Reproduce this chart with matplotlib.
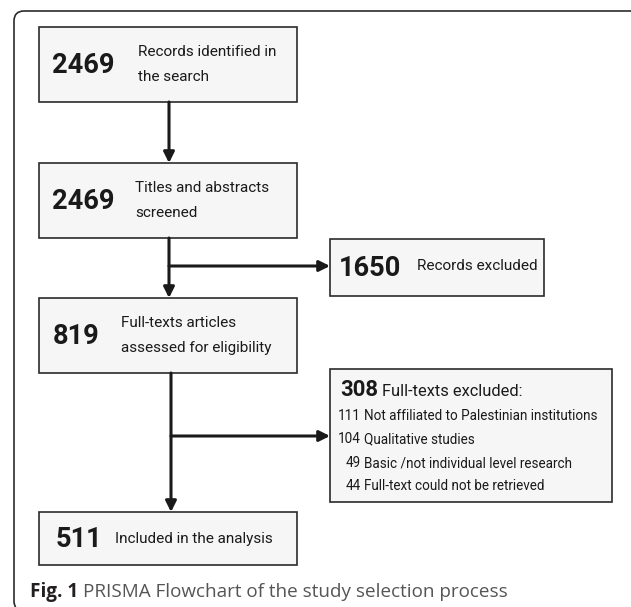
import matplotlib
matplotlib.use('Agg')
import matplotlib.pyplot as plt
from matplotlib.patches import Rectangle, FancyBboxPatch

# flow counts and labels (top to bottom)
main_counts = ['2469', '2469', '819', '511']
main_labels = ['Records identified in\nthe search',
               'Titles and abstracts\nscreened',
               'Full-texts articles\nassessed for eligibility',
               'Included in the analysis']

excluded_count = '1650'
excluded_label = 'Records excluded'

fulltext_excl_count = '308'
fulltext_excl_label = 'Full-texts excluded:'
reason_counts = ['111', '104', '49', '44']
reason_labels = ['Not affiliated to Palestinian institutions',
                 'Qualitative studies',
                 'Basic /not individual level research',
                 'Full-text could not be retrieved']

caption_bold = 'Fig. 1'
caption_text = 'PRISMA Flowchart of the study selection process'

W, H = 631, 607
FONT = 'Roboto'
EDGE = '#2b2b2b'
FILL = '#f6f6f6'
INK = '#1a1a1a'

fig = plt.figure(figsize=(W / 100, H / 100), dpi=100)
ax = fig.add_axes([0, 0, 1, 1])
ax.set_xlim(0, W)
ax.set_ylim(H, 0)
ax.axis('off')
renderer = fig.canvas.get_renderer()


def fit(texts, widths):
    # shrink a group of texts to one size so none is wider than allowed
    scale = min(w / t.get_window_extent(renderer).width for t, w in zip(texts, widths))
    for t in texts:
        t.set_fontsize(t.get_fontsize() * scale)


def label_lines(x, yc, label, width, out, widths):
    lines = label.split('\n')
    gap = 25.5
    y0 = yc - gap * (len(lines) - 1) / 2
    for i, line in enumerate(lines):
        out.append(ax.text(x, y0 + i * gap, line, fontsize=12, family=FONT,
                           ha='left', va='center', color=INK))
        widths.append(width)


# outer frame (runs off the right and bottom of the picture)
ax.add_patch(FancyBboxPatch((14, 11), 700, 600,
                            boxstyle='round,pad=0,rounding_size=10',
                            fc='white', ec=EDGE, lw=1.2))

# main column boxes: (top, bottom), number x, label x
main_boxes = [(27, 102), (163, 238), (298, 373), (512, 565)]
num_x = [52, 52, 53, 56]
lab_x = [138, 135, 121, 115]
num_w = [65, 65, 50, 47]
lab_w = [150, 145, 165, 175]
num_texts, lab_texts, lab_tw = [], [], []
for (y0, y1), n, lab, nx, lx, lw in zip(main_boxes, main_counts, main_labels,
                                        num_x, lab_x, lab_w):
    ax.add_patch(Rectangle((39, y0), 258, y1 - y0, fc=FILL, ec=EDGE, lw=1.2))
    yc = (y0 + y1) / 2
    num_texts.append(ax.text(nx, yc + 1, n, fontsize=20, fontweight='bold', family=FONT,
                             ha='left', va='center', color=INK))
    label_lines(lx, yc, lab, lw, lab_texts, lab_tw)

# side box: records excluded
ax.add_patch(Rectangle((330, 239), 214, 57, fc=FILL, ec=EDGE, lw=1.2))
num_texts.append(ax.text(339, 268, excluded_count, fontsize=20, fontweight='bold',
                         family=FONT, ha='left', va='center', color=INK))
num_w.append(65)
label_lines(417, 266, excluded_label, 120, lab_texts, lab_tw)
fit(num_texts, num_w)
fit(lab_texts, lab_tw)

# side box: full-texts excluded
ax.add_patch(Rectangle((330, 369), 282, 133, fc=FILL, ec=EDGE, lw=1.2))
head_num = ax.text(340, 396, fulltext_excl_count, fontsize=16, fontweight='bold',
                   family=FONT, ha='left', va='baseline', color=INK)
head_lab = ax.text(382, 396, fulltext_excl_label, fontsize=13, family=FONT,
                   ha='left', va='baseline', color=INK)
fit([head_num], [38])
fit([head_lab], [140])
reason_y = [420, 443, 467, 490]
cnt_texts, rsn_texts = [], []
for c, lab, y in zip(reason_counts, reason_labels, reason_y):
    cnt_texts.append(ax.text(361, y, c, fontsize=11, family=FONT, ha='right',
                             va='baseline', color=INK))
    rsn_texts.append(ax.text(364, y, lab, fontsize=11, family=FONT, ha='left',
                             va='baseline', color=INK))
fit(rsn_texts, [240, 115, 208, 187])
for t in cnt_texts:
    t.set_fontsize(rsn_texts[0].get_fontsize())

# arrows
arrow = dict(arrowstyle='-|>', lw=2.2, color=INK, mutation_scale=16,
             shrinkA=0, shrinkB=0)
ax.annotate('', xy=(169, 163), xytext=(169, 102), arrowprops=arrow)
ax.annotate('', xy=(169, 298), xytext=(169, 238), arrowprops=arrow)
ax.annotate('', xy=(330, 266), xytext=(169, 266), arrowprops=arrow)
ax.annotate('', xy=(171, 512), xytext=(171, 373), arrowprops=arrow)
ax.annotate('', xy=(330, 436), xytext=(171, 436), arrowprops=arrow)

# caption
t = ax.text(30, 592, caption_bold, fontsize=13.6, fontweight='bold', family='Open Sans',
            ha='left', va='center', color='#231f20')
bb = t.get_window_extent(renderer)
x_end = ax.transData.inverted().transform((bb.x1, 0))[0]
ax.text(x_end + 5, 592, caption_text, fontsize=13.6, family='Open Sans',
        ha='left', va='center', color='#555555')

fig.savefig('out.png', dpi=100)
